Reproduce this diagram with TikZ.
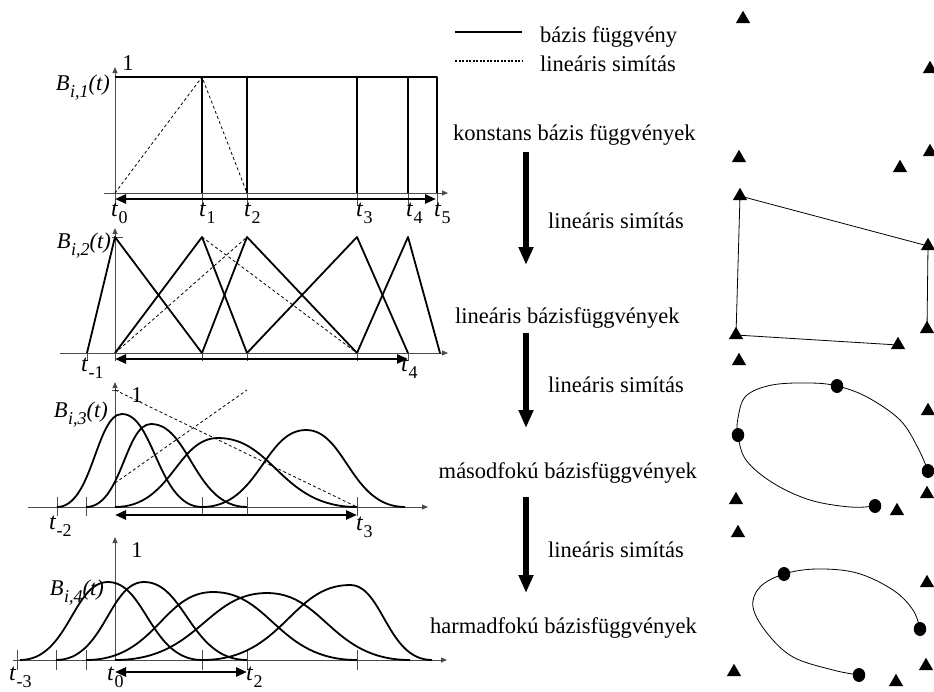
\documentclass[tikz,border=0pt]{standalone}
\usepackage{fontspec}
\setmainfont{Liberation Serif}
\usetikzlibrary{arrows.meta,shapes.geometric}
\newcommand\tlab[1]{{\fontsize{24}{26}\selectfont\textit{t}\kern0.3pt\raisebox{-0.65ex}{\fontsize{18}{18}\selectfont #1}}}
\newcommand\blab[1]{\textit{B}\kern0.5pt\raisebox{-0.7ex}{\fontsize{18}{18}\selectfont\itshape #1}\textit{(t)}}
% start x, peak x, peak y, end x, base y
\newcommand\bellc[5]{%
  \draw[basisline] (#1,#5) .. controls ({#1+0.55*(#2-#1)},#5) and ({#2-0.4*(#2-#1)},#3) .. (#2,#3)
     .. controls ({#2+0.4*(#4-#2)},#3) and ({#4-0.55*(#4-#2)},#5) .. (#4,#5);}
\begin{document}
\begin{tikzpicture}[x=1pt,y=-1pt,
  axisline/.style={black!70, line width=0.8pt, -{Triangle[length=6pt,width=5pt]}},
  basisline/.style={line width=1.8pt, line join=round},
  linsmooth/.style={line width=0.8pt, dash pattern=on 3pt off 2.5pt},
  knottick/.style={black!70, line width=0.8pt},
  spanarrow/.style={line width=2.6pt, {Triangle[length=11pt,width=9pt]}-{Triangle[length=11pt,width=9pt]}},
  txt/.style={font=\fontsize{22.5}{26}\selectfont, inner sep=0pt},
  bigarrow/.style={line width=5.5pt, -{Triangle[length=18pt,width=14pt]}},
  cpt/.style={regular polygon, regular polygon sides=3, minimum size=16.5pt, fill=black, inner sep=0pt},
  dotpt/.style={ellipse, minimum width=12.5pt, minimum height=14pt, fill=black, inner sep=0pt}]
\useasboundingbox (0,0) rectangle (934,691);

% ---------- panel 1: constant ----------
\draw[axisline] (104,193) -- (448,193);
\draw[axisline] (115,193) -- (115,67);
\draw[basisline] (115,77) -- (437,77) -- (437,193);
\foreach \x in {202,247,357,408} \draw[basisline] (\x,77) -- (\x,193);
\draw[linsmooth] (115,193) -- (202,77) -- (247,193);
\foreach \x in {115,202,247,357,408,437} \draw[knottick] (\x,193) -- (\x,206);
\coordinate (p1a) at (115,199); \coordinate (p1b) at (436,199);
\draw[spanarrow] (p1a) -- (p1b);
\node[txt,anchor=base] (one1) at (128,70) {1};
\node[txt,anchor=base east] (B1) at (110,90) {\blab{i,1}};
\node[txt,anchor=base west] (t10) at (111,216) {\tlab{0}};
\node[txt,anchor=base west] (t11) at (199,216) {\tlab{1}};
\node[txt,anchor=base west] (t12) at (244,216) {\tlab{2}};
\node[txt,anchor=base west] (t13) at (356,216) {\tlab{3}};
\node[txt,anchor=base west] (t14) at (406,216) {\tlab{4}};
\node[txt,anchor=base west] (t15) at (434,216) {\tlab{5}};

% ---------- panel 2: linear ----------
\draw[axisline] (60,353) -- (448,353);
\draw[axisline] (115,353) -- (115,228);
\draw[knottick] (112,237) -- (123,237);
\draw[basisline] (87,353) -- (115,237) -- (202,353);
\draw[basisline] (115,353) -- (202,237) -- (247,353);
\draw[basisline] (202,353) -- (247,237) -- (357,353);
\draw[basisline] (247,353) -- (357,237) -- (408,353);
\draw[basisline] (357,353) -- (408,237) -- (440,353);
\draw[linsmooth] (115,353) -- (247,237);
\draw[linsmooth] (202,237) -- (357,353);
\foreach \x in {87,115,202,247,357,408} \draw[knottick] (\x,353) -- (\x,361);
\coordinate (p2a) at (115,359); \coordinate (p2b) at (408,359);
\draw[spanarrow] (p2a) -- (p2b);
\node[txt,anchor=base east] (B2) at (111,248) {\blab{i,2}};
\node[txt,anchor=base west] (t2m1) at (81,371) {\tlab{-1}};
\node[txt,anchor=base west] (t24) at (401,371) {\tlab{4}};

% ---------- panel 3: quadratic ----------
\draw[axisline] (28,507) -- (428,507);
\draw[axisline] (115,507) -- (115,382);
\draw[knottick] (112,390) -- (119,390);
\foreach \x in {57,86,202,247,357} \draw[knottick] (\x,497) -- (\x,516);
\bellc{57}{122}{414}{202}{507}
\bellc{86}{151}{424}{247}{507}
\bellc{115}{218}{438}{357}{507}
\bellc{202}{306}{430}{405}{507}
\draw[linsmooth] (115,483) -- (247,390);
\draw[linsmooth] (115,390) -- (357,507);
\coordinate (p3a) at (115,515); \coordinate (p3b) at (357,515);
\draw[spanarrow] (p3a) -- (p3b);
\node[txt,anchor=base] (one3) at (137,402) {1};
\node[txt,anchor=base east] (B3) at (108,417) {\blab{i,3}};
\node[txt,anchor=base west] (t3m2) at (49,529) {\tlab{-2}};
\node[txt,anchor=base west] (t33) at (356,530) {\tlab{3}};

% ---------- panel 4: cubic ----------
\draw[axisline] (13,660) -- (447,660);
\draw[axisline] (115,660) -- (115,537);
\foreach \x in {17,56,86,202,247,357} \draw[knottick] (\x,650) -- (\x,670);
\bellc{20}{108}{582}{202}{660}
\bellc{56}{144}{582}{247}{660}
\bellc{86}{213}{592}{357}{660}
\bellc{115}{267}{593}{410}{660}
\bellc{202}{350}{585}{432}{660}
\coordinate (p4a) at (115,672); \coordinate (p4b) at (247,672);
\draw[spanarrow] (p4a) -- (p4b);
\node[txt,anchor=base] (one4) at (137,557) {1};
\node[txt,anchor=base east] (B4) at (104,595) {\blab{i,4}};
\node[txt,anchor=base west] (t4m3) at (9,680) {\tlab{-3}};
\node[txt,anchor=base west] (t40) at (107,680) {\tlab{0}};
\node[txt,anchor=base west] (t42) at (246,680) {\tlab{2}};

% ---------- legend and middle column ----------
\coordinate (lg1a) at (455,32); \coordinate (lg1b) at (522,32);
\coordinate (lg2a) at (455,61); \coordinate (lg2b) at (522,61);
\draw[line width=2.2pt] (lg1a) -- (lg1b);
\draw[line width=1.4pt, dash pattern=on 2pt off 1.5pt] (lg2a) -- (lg2b);
\node[txt,anchor=base west] (legA) at (540,42) {bázis függvény};
\node[txt,anchor=base west] (legB) at (540,71) {lineáris simítás};

\node[txt,anchor=base west] (k0) at (453,140) {konstans bázis függvények};
\node[txt,anchor=base west] (s1) at (548,228) {lineáris simítás};
\node[txt,anchor=base west] (k1) at (455,323) {lineáris bázisfüggvények};
\node[txt,anchor=base west] (s2) at (548,392) {lineáris simítás};
\node[txt,anchor=base east] (k2) at (697,478) {másodfokú bázisfüggvények};
\node[txt,anchor=base west] (s3) at (548,557) {lineáris simítás};
\node[txt,anchor=base east] (k3) at (697,633) {harmadfokú bázisfüggvények};

\coordinate (a1s) at (526,152); \coordinate (a1e) at (526,265);
\coordinate (a2s) at (526,333); \coordinate (a2e) at (526,428);
\coordinate (a3s) at (526,497); \coordinate (a3e) at (526,593);
\draw[bigarrow] (a1s) -- (a1e);
\draw[bigarrow] (a2s) -- (a2e);
\draw[bigarrow] (a3s) -- (a3e);

% ---------- right column ----------
\node[cpt] (c1) at (743,19) {};
\node[cpt] (c2) at (930,69) {};
\node[cpt] (c3) at (739,158) {};
\node[cpt] (c4) at (900,168) {};
\node[cpt] (c5) at (930,152) {};
\node[cpt] (c6) at (740,196) {};
\node[cpt] (c7) at (928,246) {};
\node[cpt] (c8) at (927,329) {};
\node[cpt] (c9) at (736,335) {};
\node[cpt] (c10) at (898,345) {};
\draw[line width=0.8pt] (c10.center) -- (c9.center) -- (c6.center) -- (c7.center) -- (c8.center);

\node[cpt] (c11) at (739,361) {};
\node[cpt] (c12) at (928,411) {};
\node[cpt] (c13) at (927,494) {};
\node[cpt] (c14) at (736,500) {};
\node[cpt] (c15) at (897,511) {};
\node[cpt] (c16) at (738,533) {};
\node[dotpt] (d1) at (837,386) {};
\node[dotpt] (d2) at (738,435) {};
\node[dotpt] (d3) at (928,471) {};
\node[dotpt] (d4) at (875,506) {};
\draw[line width=0.8pt] plot[smooth, tension=0.6] coordinates {(d4.center) (850,507) (810,500) (773,483) (746,460) (d2.center) (738,418) (746,396) (772,385) (810,383) (d1.center) (867,397) (900,420) (918,448) (d3.center)};

\node[cpt] (c17) at (927,583) {};
\node[cpt] (c18) at (926,666) {};
\node[cpt] (c19) at (734,672) {};
\node[cpt] (c20) at (896,682) {};
\node[dotpt] (d5) at (784,574) {};
\node[dotpt] (d6) at (920,629) {};
\node[dotpt] (d7) at (859,675) {};
\draw[line width=0.8pt] plot[smooth, tension=0.6] coordinates {(d7.center) (833,670) (793,657) (767,633) (753,607) (760,587) (d5.center) (817,569) (857,573) (893,590) (913,610) (d6.center)};
\end{tikzpicture}
\end{document}
